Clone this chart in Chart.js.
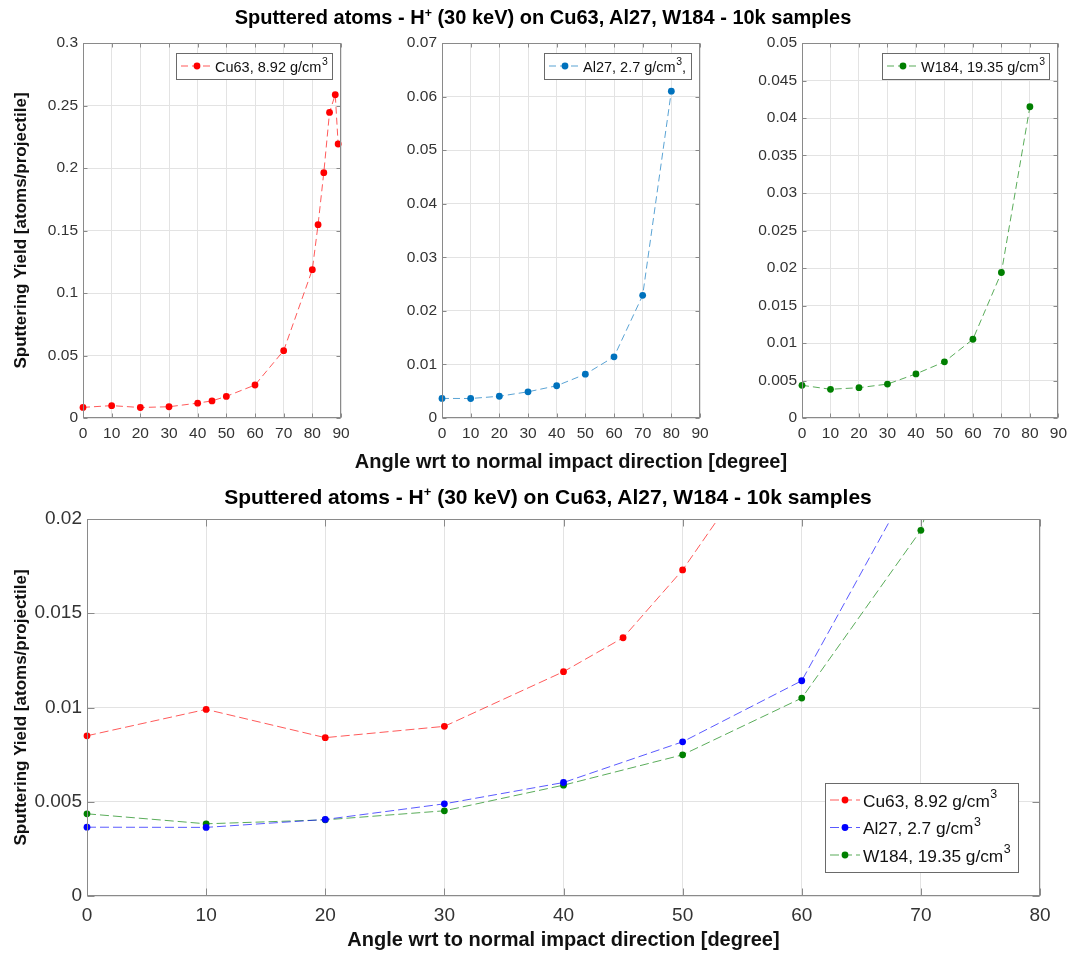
<!DOCTYPE html>
<html>
<head>
<meta charset="utf-8">
<script src="https://cdn.jsdelivr.net/npm/chart.js@4/dist/chart.umd.min.js"></script>
<style>
  body { margin: 0; background: #fff; width: 1073px; height: 956px; position: relative; overflow: hidden; }
  canvas { position: absolute; }
  .ttl { position: absolute; left: 0; text-align: center; font-family: "Liberation Sans", Arial, sans-serif; font-weight: bold; color: #000; white-space: nowrap; z-index: 2; }
  .ttl span { font-size: 0.62em; vertical-align: 0.6em; line-height: 0; }
</style>
</head>
<body>
<div class="ttl" style="top:5px; width:1086px; font-size:20px; line-height:24px;">Sputtered atoms - H<span>+</span> (30 keV) on Cu63, Al27, W184 - 10k samples</div>
<div class="ttl" style="top:449px; width:1142px; font-size:20px; line-height:24px; color:#111;">Angle wrt to normal impact direction [degree]</div>
<div class="ttl" style="top:484px; width:1096px; font-size:21px; line-height:25px;">Sputtered atoms - H<span>+</span> (30 keV) on Cu63, Al27, W184 - 10k samples</div>
<canvas id="c1" width="361" height="480" style="left:0;top:0"></canvas>
<canvas id="c2" width="360" height="480" style="left:360px;top:0"></canvas>
<canvas id="c3" width="353" height="480" style="left:720px;top:0"></canvas>
<canvas id="c4" width="1073" height="486" style="left:0;top:470px"></canvas>
<script>
// data
var angleCu = [0, 10, 20, 30, 40, 45, 50, 60, 70, 80, 82, 84, 86, 88, 89];
var yieldCu = [0.0085, 0.0099, 0.0084, 0.0090, 0.0119, 0.0137, 0.0173, 0.0264, 0.0539, 0.1187, 0.1547, 0.1963, 0.2445, 0.2587, 0.2192];
var angleAl = [0, 10, 20, 30, 40, 50, 60, 70, 80];
var yieldAl = [0.00365, 0.00364, 0.00406, 0.00489, 0.00602, 0.00818, 0.01142, 0.0229, 0.0610];
var angleW = [0, 10, 20, 30, 40, 50, 60, 70, 80];
var yieldW = [0.00436, 0.00383, 0.00404, 0.00452, 0.00588, 0.00749, 0.0105, 0.0194, 0.0415];

var labelCu = "Cu63, 8.92 g/cm\u00b3";
var labelAl = "Al27, 2.7 g/cm\u00b3";
var labelAlTop = "Al27, 2.7 g/cm\u00b3,";
var labelW = "W184, 19.35 g/cm\u00b3";
var xTitle = "Angle wrt to normal impact direction [degree]";
var yTitle = "Sputtering Yield [atoms/projectile]";

var FONT = '"Liberation Sans", Arial, sans-serif';
Chart.defaults.font.family = FONT;
Chart.defaults.color = "#262626";

function pts(xs, ys) {
  return xs.map(function (x, i) { return { x: x, y: ys[i] }; });
}
function fmt(v) { return String(parseFloat(v.toFixed(6))); }

// box around the axes with inward ticks
var frame = {
  id: "frame",
  afterDatasetsDraw: function (chart, args, o) {
    var ctx = chart.ctx, a = chart.chartArea, sx = chart.scales.x, sy = chart.scales.y;
    var L = Math.round(a.left) + 0.5, R = Math.round(a.right) - 0.5;
    var T = Math.round(a.top) + 0.5, B = Math.round(a.bottom) - 0.5;
    ctx.save();
    ctx.strokeStyle = "#8a8a8a";
    ctx.lineWidth = 1;
    ctx.beginPath();
    sx.ticks.forEach(function (t) {
      var p = Math.round(sx.getPixelForValue(t.value)) + 0.5;
      ctx.moveTo(p, B); ctx.lineTo(p, B - o.len);
      ctx.moveTo(p, T); ctx.lineTo(p, T + o.len);
    });
    sy.ticks.forEach(function (t) {
      var p = Math.round(sy.getPixelForValue(t.value)) + 0.5;
      ctx.moveTo(L, p); ctx.lineTo(L + o.len, p);
      ctx.moveTo(R, p); ctx.lineTo(R - o.len, p);
    });
    ctx.stroke();
    ctx.strokeRect(L, T, R - L, B - T);
    ctx.restore();
  }
};

// draws "g/cm³" with a real raised, larger 3 like MATLAB's tex output
function splitSup(label) {
  var i = label.indexOf("\u00b3");
  if (i < 0) return [label, "", ""];
  return [label.slice(0, i), "3", label.slice(i + 1)];
}
function labelWidth(ctx, label, size) {
  var p = splitSup(label);
  ctx.font = size + "px " + FONT;
  var w = ctx.measureText(p[0]).width + ctx.measureText(p[2]).width;
  ctx.font = (size * 0.72) + "px " + FONT;
  return w + ctx.measureText(p[1]).width;
}
function drawLabel(ctx, label, x, y, size) {
  var p = splitSup(label);
  ctx.font = size + "px " + FONT;
  ctx.fillText(p[0], x, y);
  x += ctx.measureText(p[0]).width;
  if (p[1]) {
    ctx.font = (size * 0.72) + "px " + FONT;
    ctx.fillText(p[1], x + 0.5, y - size * 0.42);
    x += ctx.measureText(p[1]).width + 0.5;
    ctx.font = size + "px " + FONT;
    ctx.fillText(p[2], x, y);
  }
}

// MATLAB-like legend box inside the axes
var boxLegend = {
  id: "boxLegend",
  afterDraw: function (chart, args, o) {
    var ctx = chart.ctx, a = chart.chartArea, sets = chart.data.datasets;
    ctx.save();
    var tw = 0;
    sets.forEach(function (d) { tw = Math.max(tw, labelWidth(ctx, d.label, o.size)); });
    var w = Math.round(o.padL + o.lineLen + o.gap + tw + o.padR);
    var h = Math.round(sets.length * o.rowH + o.padV * 2);
    var x = Math.round(a.right - o.right - w);
    var y = o.bottom != null ? Math.round(a.bottom - o.bottom - h) : Math.round(a.top + o.top);
    ctx.fillStyle = "#fff";
    ctx.fillRect(x, y, w, h);
    ctx.strokeStyle = "#6a6a6a";
    ctx.lineWidth = 1;
    ctx.strokeRect(x + 0.5, y + 0.5, w, h);
    sets.forEach(function (d, i) {
      var cy = y + o.padV + o.rowH * (i + 0.5);
      var lx = x + o.padL;
      ctx.setLineDash(d.borderDash);
      ctx.strokeStyle = d.borderColor;
      ctx.beginPath();
      ctx.moveTo(lx, cy); ctx.lineTo(lx + o.lineLen, cy);
      ctx.stroke();
      ctx.setLineDash([]);
      ctx.fillStyle = d.pointBackgroundColor;
      ctx.beginPath();
      ctx.arc(lx + o.lineLen / 2, cy, d.pointRadius, 0, Math.PI * 2);
      ctx.fill();
      ctx.fillStyle = "#111";
      ctx.textBaseline = "middle";
      drawLabel(ctx, d.label, lx + o.lineLen + o.gap, cy + 2, o.size);
    });
    ctx.restore();
  }
};

function series(label, xs, ys, col, lineCol, dash) {
  return {
    label: label,
    data: pts(xs, ys),
    borderColor: lineCol,
    borderWidth: 1,
    borderDash: dash,
    pointRadius: 3.4,
    pointBorderWidth: 0,
    pointBackgroundColor: col,
    fill: false,
    tension: 0,
    clip: false
  };
}

function makeChart(id, sets, cfg) {
  var ctx = document.getElementById(id).getContext("2d");
  return new Chart(ctx, {
    type: "line",
    data: { datasets: sets },
    plugins: [frame, boxLegend],
    options: {
      responsive: false,
      animation: false,
      devicePixelRatio: 1,
      layout: { padding: { top: cfg.padTop, right: cfg.padRight, left: 0, bottom: 0 } },
      plugins: {
        legend: { display: false },
        tooltip: { enabled: false },
        frame: { len: cfg.tickLen },
        boxLegend: cfg.legend
      },
      scales: {
        x: {
          type: "linear",
          min: 0, max: cfg.xMax,
          afterFit: function (s) { s.height = cfg.xH; },
          grid: { color: "#e3e3e3", drawTicks: false },
          border: { display: false },
          ticks: { stepSize: 10, autoSkip: false, maxRotation: 0, padding: cfg.xPad, color: "#333", font: { size: cfg.tickSize }, callback: fmt },
          title: { display: !!cfg.xTitle, text: xTitle, color: "#111", font: { size: 20, weight: "bold" }, padding: { top: 0, bottom: cfg.xTitlePad } }
        },
        y: {
          type: "linear",
          min: 0, max: cfg.yMax,
          afterFit: function (s) { s.width = cfg.yW; },
          grid: { color: "#e3e3e3", drawTicks: false },
          border: { display: false },
          ticks: { stepSize: cfg.yStep, autoSkip: false, padding: 5, color: "#333", font: { size: cfg.tickSize }, callback: fmt },
          title: { display: !!cfg.yTitle, text: yTitle, color: "#111", font: { size: 17, weight: "bold" }, padding: { top: 11, bottom: 0 } }
        }
      }
    }
  });
}

var topLegend = { size: 14.5, padL: 5, lineLen: 32, gap: 2, padR: 5, padV: 2, rowH: 22, right: 9, top: 10 };

makeChart("c1", [series(labelCu, angleCu, yieldCu, "#ff0000", "rgba(255,0,0,0.65)", [7, 4])], {
  padTop: 43, padRight: 20, xH: 62, yW: 83, xMax: 90, yMax: 0.3, yStep: 0.05,
  tickSize: 15.5, xPad: 6, tickLen: 4, yTitle: true, legend: topLegend
});
makeChart("c2", [series(labelAlTop, angleAl, yieldAl, "#0072bd", "rgba(0,114,189,0.65)", [7, 4])], {
  padTop: 43, padRight: 20, xH: 62, yW: 82, xMax: 90, yMax: 0.07, yStep: 0.01,
  tickSize: 15.5, xPad: 6, tickLen: 4, legend: topLegend
});
makeChart("c3", [series(labelW, angleW, yieldW, "#007f00", "rgba(0,127,0,0.65)", [7, 4])], {
  padTop: 43, padRight: 13, xH: 62, yW: 82, xMax: 90, yMax: 0.05, yStep: 0.005,
  tickSize: 15.5, xPad: 6, tickLen: 4, legend: topLegend
});

var bottomSets = [
  series(labelCu, angleCu, yieldCu, "#ff0000", "rgba(255,0,0,0.65)", [9, 4]),
  series(labelAl, angleAl, yieldAl, "#0000ff", "rgba(0,0,255,0.65)", [9, 4]),
  series(labelW, angleW, yieldW, "#008000", "rgba(0,128,0,0.65)", [9, 4])
];
bottomSets.forEach(function (d) { d.clip = { left: 6, right: 0, top: 0, bottom: 6 }; });
makeChart("c4", bottomSets, {
  padTop: 49, padRight: 33, xH: 60, yW: 87, xMax: 80, yMax: 0.02, yStep: 0.005,
  tickSize: 19, xPad: 8, tickLen: 7, yTitle: true, xTitle: true, xTitlePad: 4,
  legend: { size: 17.3, padL: 5, lineLen: 30, gap: 3, padR: 8, padV: 3.25, rowH: 27.5, right: 22, bottom: 24 }
});
</script>
</body>
</html>
